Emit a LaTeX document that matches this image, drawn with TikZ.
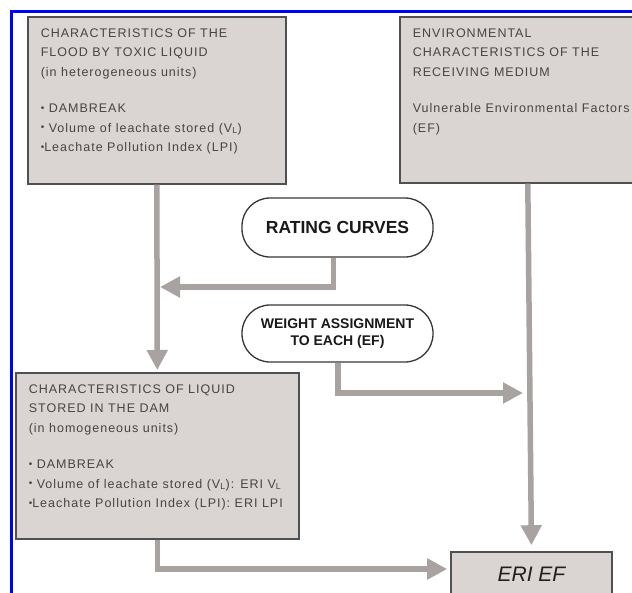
\documentclass[tikz,border=0pt]{standalone}
\usepackage{fontspec}
\usepackage{tikz}
\usetikzlibrary{arrows.meta,positioning,calc}
\newfontfamily\boxfont[LetterSpace=8]{Liberation Sans}
\newfontfamily\pillfont{Liberation Sans}
\definecolor{boxfill}{RGB}{218,212,211}
\definecolor{boxline}{RGB}{80,80,80}
\definecolor{boxtext}{RGB}{70,68,68}
\definecolor{pillline}{RGB}{55,55,55}
\definecolor{connc}{RGB}{168,162,160}
\definecolor{framec}{RGB}{0,0,255}
\newcommand{\smbul}{\raisebox{0.2ex}{\fontsize{10}{10}\selectfont\textbullet}}
\tikzset{
 >={Triangle[length=20pt,width=20pt]},
 infobox/.style={draw=boxline, fill=boxfill, line width=1.6pt, anchor=north west,
   inner xsep=13pt, inner ysep=11.5pt, text=boxtext,
   font=\boxfont\fontsize{12.5}{19.5}\selectfont},
 pill/.style={draw=pillline, fill=white, line width=1.3pt, rounded corners=28pt,
   minimum width=191pt, align=center, text=black!90,
   font=\pillfont\bfseries},
 eribox/.style={draw=boxline, fill=boxfill, line width=1.6pt,
   minimum width=161pt, minimum height=44pt, text=black!88,
   font=\pillfont\itshape\fontsize{21}{21}\selectfont},
 conn/.style={draw=connc, line width=5.5pt, ->}
}

\begin{document}
\begin{tikzpicture}[x=1pt,y=-1pt]
\useasboundingbox (0,0) rectangle (632,592);
\clip (0,0) rectangle (632,592);

% frame
\draw[framec, line width=2.5pt] (11.3,700) -- (11.3,11.3) -- (700,11.3);

\path (27,16) node[name=flood, infobox] {\parbox[t][144pt][t]{232pt}{\raggedright
 CHARACTERISTICS OF THE\\
 FLOOD BY TOXIC LIQUID\\
 (in heterogeneous units)\\[17pt]
 \smbul{} DAMBREAK\\
 \smbul{} Volume of leachate stored (V\textsubscript{L})\\
 \smbul Leachate Pollution Index (LPI)}};

\path (399,16) node[name=medium, infobox] {\parbox[t][143pt][t]{230pt}{\raggedright
 ENVIRONMENTAL\\
 CHARACTERISTICS OF THE\\
 RECEIVING MEDIUM\\[17pt]
 Vulnerable Environmental Factors\\
 (EF)}};

\path (15,372) node[name=stored, infobox] {\parbox[t][143pt][t]{257pt}{\raggedright
 CHARACTERISTICS OF LIQUID\\
 STORED IN THE DAM\\
 (in homogeneous units)\\[17pt]
 \smbul{} DAMBREAK\\
 \smbul{} Volume of leachate stored (V\textsubscript{L}): ERI V\textsubscript{L}\\
 \smbul Leachate Pollution Index (LPI): ERI LPI}};

\path (337.5,227.5) node[name=rating, pill, minimum height=59pt,
  font=\pillfont\bfseries\fontsize{17.5}{20}\selectfont] {RATING CURVES};
\path (337.5,333.5) node[name=weight, pill, minimum height=57pt,
  font=\pillfont\bfseries\fontsize{14}{17.7}\selectfont] {WEIGHT ASSIGNMENT\\TO EACH (EF)};

\path (531.5,574) node[name=eri, eribox] {ERI EF};

\coordinate (joinL) at (160,287);
\coordinate (joinR) at (523,393);

% connectors
\draw[conn, shorten >=2pt] (flood.south) -- (stored.north);
\draw[conn] ([xshift=-4pt]rating.south) |- (joinL);
\draw[conn] ([xshift=0.5pt]weight.south) |- (joinR);
\draw[conn, shorten >=6pt] (medium.south) -- (eri.north);
\draw[conn, shorten >=3pt] (stored.south) |- ([yshift=5pt]eri.west);
\end{tikzpicture}
\end{document}
